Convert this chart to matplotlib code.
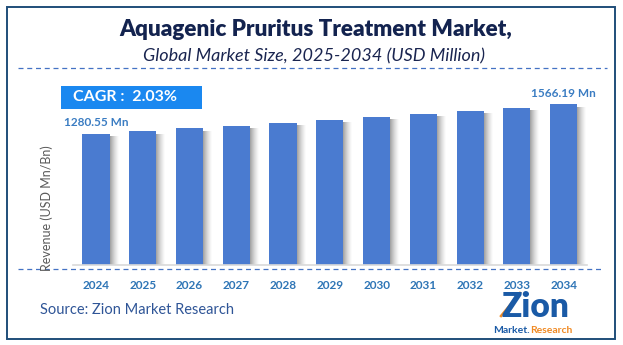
import matplotlib
matplotlib.use("Agg")
import matplotlib.pyplot as plt
from matplotlib.patches import Rectangle
from matplotlib.lines import Line2D

years = ["2024", "2025", "2026", "2027", "2028", "2029", "2030", "2031", "2032", "2033", "2034"]
revenue = [1280.55, 1306.5, 1333.0, 1360.1, 1387.7, 1415.9, 1444.6, 1473.9, 1503.8, 1534.4, 1566.19]
first_label = "1280.55 Mn"
last_label = "1566.19 Mn"
cagr_text = "CAGR :  2.03%"
title = "Aquagenic Pruritus Treatment Market,"
subtitle = "Global Market Size, 2025-2034 (USD Million)"
ylabel = "Revenue (USD Mn/Bn)"
source = "Source: Zion Market Research"

plt.rcParams['font.family'] = ['Lato', 'DejaVu Sans']

W, H = 623, 345
fig = plt.figure(figsize=(W / 100, H / 100), dpi=100)
fig.patch.set_facecolor("white")

def fx(x):
    return x / W

def fy(y):
    return 1 - y / H

# axes placement
ax_left, ax_right = 72.6, 587.0
ax_bottom = 265.0
ymax = 1800
px_per_val = 1 / 9.75
ax_top = ax_bottom - ymax * px_per_val
ax = fig.add_axes([fx(ax_left), fy(ax_bottom), (ax_right - ax_left) / W, (ax_bottom - ax_top) / H])
ax.set_xlim(-0.5, len(years) - 0.5)
ax.set_ylim(0, ymax)
ax.set_facecolor("none")

xs = list(range(len(years)))
bar_w = 0.58
unit_px = 1 / 46.75

# shadows
n_sl = 9
for i in range(n_sl):
    off = bar_w / 2 + (i + 0.5) * unit_px
    a = 0.62 * (1 - i / n_sl) ** 1.4
    ax.bar([x + off for x in xs], [v - 25 for v in revenue], width=unit_px * 1.02,
           color="#6f6f6f", alpha=a, linewidth=0, zorder=1)

ax.bar(xs, revenue, width=bar_w, color="#4a7bd0", linewidth=0, zorder=2)

for s in ["top", "right", "left"]:
    ax.spines[s].set_visible(False)
ax.spines["bottom"].set_color("#d9d9d9")
ax.spines["bottom"].set_linewidth(1.2)
ax.set_yticks([])
ax.set_xticks(xs)
ax.set_xticklabels(years, fontsize=8.5, fontweight="bold", color="#2e75b6")
ax.tick_params(axis="x", length=0, pad=11)

ax.annotate(first_label, (xs[0], revenue[0]), xytext=(0, 8), textcoords="offset points",
            ha="center", va="center", fontsize=8.5, fontweight="bold", color="#3a7cc2")
ax.annotate(last_label, (xs[-1], revenue[-1]), xytext=(0, 8), textcoords="offset points",
            ha="center", va="center", fontsize=8.5, fontweight="bold", color="#3a7cc2")

# y label
fig.text(fx(47), fy(208), ylabel, rotation=90, ha="center", va="center", fontsize=9, color="#595959")

# frame
fig.add_artist(Rectangle((fx(7), fy(339)), (615 - 7) / W, (339 - 6.5) / H, transform=fig.transFigure,
                         fill=False, edgecolor="#1f4e79", linewidth=1.4))

# dashed lines
fig.add_artist(Line2D([fx(18), fx(607)], [fy(68), fy(68)], transform=fig.transFigure,
                      color="#4472c4", linewidth=0.9, linestyle=(0, (4, 3))))
fig.add_artist(Line2D([fx(18), fx(603)], [fy(268.5), fy(268.5)], transform=fig.transFigure,
                      color="#4472c4", linewidth=0.9, linestyle=(0, (4, 3))))

# titles
fig.text(fx(316), fy(29), title, ha="center", va="center", fontsize=16.2, fontweight="heavy", color="#13234f")
fig.text(fx(314), fy(56), subtitle, ha="center", va="center", fontsize=13, fontstyle="italic", color="#1a2550")

# CAGR box
fig.add_artist(Rectangle((fx(61), fy(109)), (202 - 61) / W, (109 - 86) / H, transform=fig.transFigure,
                         facecolor="#1a88f0", edgecolor="none"))
fig.text(fx(73), fy(97.5), cagr_text, ha="left", va="center", fontsize=11.5, fontweight="bold", color="white")

# source
fig.text(fx(40), fy(310), source, ha="left", va="center", fontsize=10.5, color="#2f5597")

# logo
fig.text(fx(535), fy(307), "Zion", ha="center", va="center", fontsize=24, fontweight="heavy", color="#1a5aa6")
fig.text(fx(530), fy(330.5), "Market.", ha="right", va="center", fontsize=7.5, fontweight="bold", color="#1a5aa6")
fig.text(fx(530), fy(330.5), "Research", ha="left", va="center", fontsize=7.5, fontweight="bold", color="#f08a24")
fig.add_artist(Line2D([fx(501), fx(520)], [fy(316), fy(293)], transform=fig.transFigure,
                      color="#f08a24", linewidth=1.8))

fig.savefig("out.png", dpi=100, facecolor="white")
